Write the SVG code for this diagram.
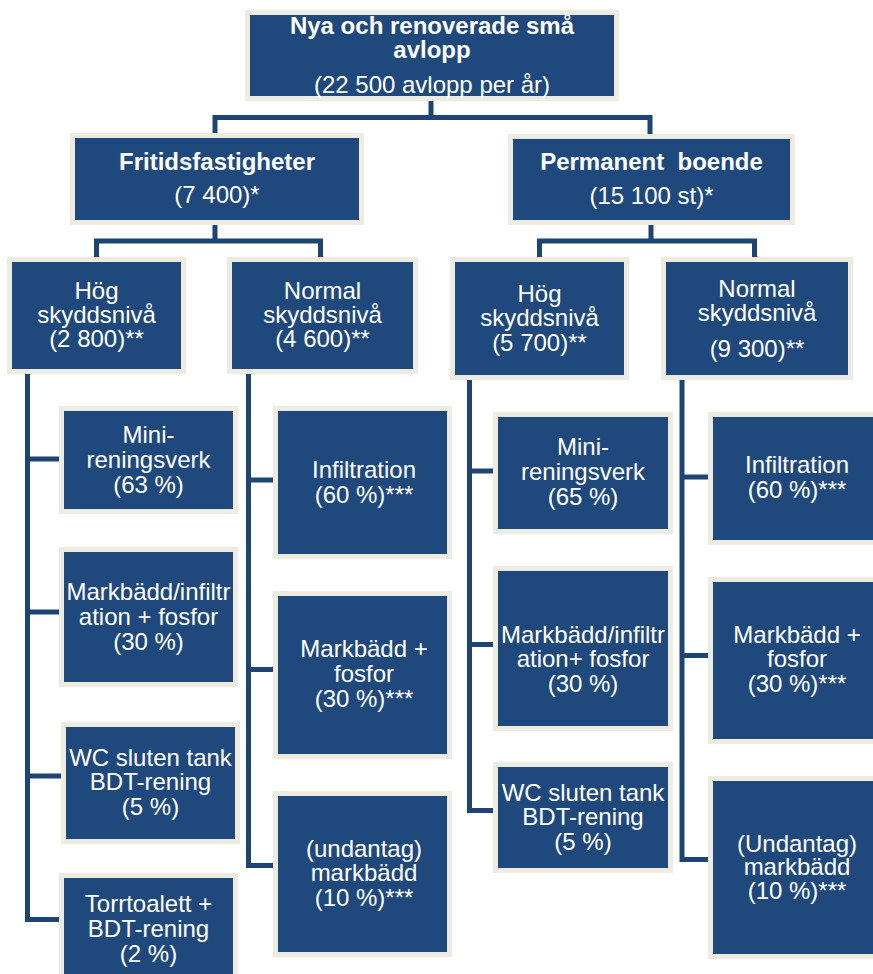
<svg xmlns="http://www.w3.org/2000/svg" width="873" height="974" viewBox="0 0 873 974">
<style>
.box{fill:#1f497d;stroke:#eeece1;stroke-width:5}
.t{font-family:"Liberation Sans",Arial,sans-serif;font-size:24px;fill:#ffffff;text-anchor:middle}
.b{font-weight:bold}
.c{fill:none;stroke:#1e4474;stroke-width:5;stroke-linejoin:miter;stroke-linecap:butt}
</style>
<rect width="873" height="974" fill="#ffffff"/>
<g id="connectors">
<path class="c" d="M431 101V117.5M215 133V117.5H650V134"/>
<path class="c" d="M215 225V241M96.5 257V241H320.5V257"/>
<path class="c" d="M651 225V241M539.5 257V241H754.5V257"/>
<path class="c" d="M27.5 374V919.5H59M27.5 459H59M27.5 612H59M27.5 776H61"/>
<path class="c" d="M248.5 374V865.5H273M248.5 480H273M248.5 669.5H273"/>
<path class="c" d="M469.5 380V810.5H493M469.5 471H493M469.5 644.5H493"/>
<path class="c" d="M682 380V859.5H708M682 477H708M682 655.5H708"/>
</g>
<g id="n-top"><rect class="box" x="247.5" y="12.5" width="369" height="86"/>
<text class="t b" x="432" y="34">Nya och renoverade små</text>
<text class="t b" x="432" y="58">avlopp</text>
<text class="t" x="432" y="93">(22 500 avlopp per år)</text></g>
<g id="n-fritid"><rect class="box" x="72.5" y="135.5" width="289" height="87"/>
<text class="t b" x="217" y="170">Fritidsfastigheter</text>
<text class="t" x="217" y="203">(7 400)*</text></g>
<g id="n-perm"><rect class="box" x="510.5" y="136.5" width="282" height="86"/>
<text class="t b" x="651.5" y="170" xml:space="preserve">Permanent  boende</text>
<text class="t" x="651.5" y="204">(15 100 st)*</text></g>
<g id="n-hogL"><rect class="box" x="9.5" y="259.5" width="174" height="112"/>
<text class="t" x="96.5" y="299">Hög</text>
<text class="t" x="96.5" y="323">skyddsnivå</text>
<text class="t" x="96.5" y="347">(2 800)**</text></g>
<g id="n-normL"><rect class="box" x="229.5" y="259.5" width="186" height="112"/>
<text class="t" x="322.5" y="299">Normal</text>
<text class="t" x="322.5" y="323">skyddsnivå</text>
<text class="t" x="322.5" y="347">(4 600)**</text></g>
<g id="n-hogR"><rect class="box" x="452.5" y="259.5" width="174" height="118"/>
<text class="t" x="539.5" y="302">Hög</text>
<text class="t" x="539.5" y="326">skyddsnivå</text>
<text class="t" x="539.5" y="351">(5 700)**</text></g>
<g id="n-normR"><rect class="box" x="663.5" y="259.5" width="187" height="118"/>
<text class="t" x="757" y="297">Normal</text>
<text class="t" x="757" y="321">skyddsnivå</text>
<text class="t" x="757" y="357">(9 300)**</text></g>
<g id="n-miniL"><rect class="box" x="61.5" y="408.5" width="174" height="103"/>
<text class="t" x="148.5" y="443">Mini-</text>
<text class="t" x="148.5" y="468">reningsverk</text>
<text class="t" x="148.5" y="493">(63 %)</text></g>
<g id="n-infL"><rect class="box" x="275.5" y="408.5" width="174" height="148"/>
<text class="t" x="364" y="478">Infiltration</text>
<text class="t" x="364" y="503">(60 %)***</text></g>
<g id="n-mbL"><rect class="box" x="61.5" y="549.5" width="174" height="135"/>
<text class="t" x="148.5" y="600">Markbädd/infiltr</text>
<text class="t" x="148.5" y="625">ation + fosfor</text>
<text class="t" x="148.5" y="650">(30 %)</text></g>
<g id="n-wcL"><rect class="box" x="63.5" y="724.5" width="174" height="117"/>
<text class="t" x="150.5" y="766">WC sluten tank</text>
<text class="t" x="150.5" y="790">BDT-rening</text>
<text class="t" x="150.5" y="815">(5 %)</text></g>
<g id="n-torr"><rect class="box" x="61.5" y="875.5" width="174" height="110"/>
<text class="t" x="148.5" y="912">Torrtoalett +</text>
<text class="t" x="148.5" y="937">BDT-rening</text>
<text class="t" x="148.5" y="962">(2 %)</text></g>
<g id="n-mbfL"><rect class="box" x="275.5" y="593.5" width="174" height="163"/>
<text class="t" x="364" y="657">Markbädd +</text>
<text class="t" x="364" y="682">fosfor</text>
<text class="t" x="364" y="707">(30 %)***</text></g>
<g id="n-undL"><rect class="box" x="275.5" y="793.5" width="174" height="161"/>
<text class="t" x="364" y="857">(undantag)</text>
<text class="t" x="364" y="881">markbädd</text>
<text class="t" x="364" y="906">(10 %)***</text></g>
<g id="n-miniR"><rect class="box" x="495.5" y="414.5" width="175" height="117"/>
<text class="t" x="583" y="455">Mini-</text>
<text class="t" x="583" y="480">reningsverk</text>
<text class="t" x="583" y="505">(65 %)</text></g>
<g id="n-infR"><rect class="box" x="710.5" y="414.5" width="173" height="128"/>
<text class="t" x="797" y="473">Infiltration</text>
<text class="t" x="797" y="498">(60 %)***</text></g>
<g id="n-mbR"><rect class="box" x="495.5" y="568.5" width="175" height="160"/>
<text class="t" x="583" y="643">Markbädd/infiltr</text>
<text class="t" x="583" y="667">ation+ fosfor</text>
<text class="t" x="583" y="692">(30 %)</text></g>
<g id="n-wcR"><rect class="box" x="495.5" y="764.5" width="175" height="106"/>
<text class="t" x="583" y="801">WC sluten tank</text>
<text class="t" x="583" y="825">BDT-rening</text>
<text class="t" x="583" y="850">(5 %)</text></g>
<g id="n-mbfR"><rect class="box" x="710.5" y="579.5" width="173" height="162"/>
<text class="t" x="797" y="643">Markbädd +</text>
<text class="t" x="797" y="667">fosfor</text>
<text class="t" x="797" y="692">(30 %)***</text></g>
<g id="n-undR"><rect class="box" x="710.5" y="778.5" width="173" height="178"/>
<text class="t" x="797" y="852">(Undantag)</text>
<text class="t" x="797" y="875">markbädd</text>
<text class="t" x="797" y="899">(10 %)***</text></g>
</svg>
